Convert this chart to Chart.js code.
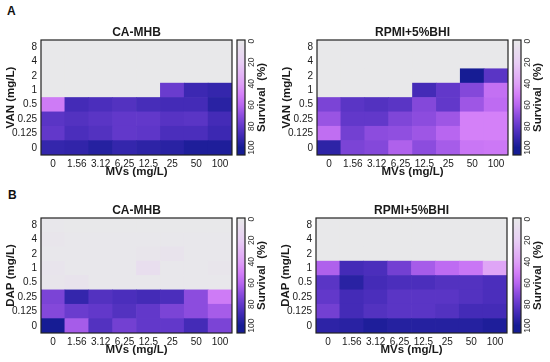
<!DOCTYPE html>
<html>
<head>
<meta charset="utf-8">
<script src="https://cdn.jsdelivr.net/npm/chart.js@4.4.1/dist/chart.umd.min.js"></script>
<style>
  body { margin: 0; background: #fff; }
  #page { position: relative; width: 550px; height: 362px; overflow: hidden; font-family: 'Liberation Sans', Arial, sans-serif; }
  #page canvas { position: absolute; }
  .panel-tag { position: absolute; font-weight: bold; font-size: 12px; color: #111; }
</style>
</head>
<body>
<div id="page">
  <div class="panel-tag" style="left:7px;top:4px">A</div>
  <div class="panel-tag" style="left:8px;top:188px">B</div>

  <canvas id="heatVanMhb" width="236" height="182" style="left:0;top:0"></canvas>
  <canvas id="barVanMhb" width="45" height="182" style="left:229px;top:0"></canvas>
  <canvas id="heatVanRpmi" width="236" height="182" style="left:276px;top:0"></canvas>
  <canvas id="barVanRpmi" width="45" height="182" style="left:505px;top:0"></canvas>

  <canvas id="heatDapMhb" width="236" height="182" style="left:0;top:178px"></canvas>
  <canvas id="barDapMhb" width="45" height="182" style="left:229px;top:178px"></canvas>
  <canvas id="heatDapRpmi" width="236" height="182" style="left:275px;top:178px"></canvas>
  <canvas id="barDapRpmi" width="45" height="182" style="left:505px;top:178px"></canvas>
</div>

<script>
// Axis categories
const mvLabels = ['0', '1.56', '3.12', '6.25', '12.5', '25', '50', '100'];
const concLabels = ['0', '0.125', '0.25', '0.5', '1', '2', '4', '8'];   // bottom -> top

// Survival (%) per cell, one row per antibiotic conc (bottom row first)
const vanMhb = [
  [92, 93, 96, 92, 94, 95, 98, 98],
  [80, 86, 84, 80, 81, 86, 86, 90],
  [82, 84, 82, 80, 80, 83, 82, 88],
  [52, 88, 86, 84, 87, 88, 88, 95],
  [0, 0, 0, 0, 0, 78, 90, 92],
  [0, 0, 0, 0, 0, 0, 0, 0],
  [0, 0, 0, 0, 0, 0, 0, 0],
  [0, 0, 0, 0, 0, 0, 0, 0],
];

const vanRpmi = [
  [94, 74, 72, 62, 70, 64, 54, 53],
  [57, 76, 70, 69, 66, 60, 50, 50],
  [67, 80, 80, 73, 70, 66, 50, 50],
  [74, 82, 84, 82, 72, 80, 66, 58],
  [0, 0, 0, 0, 88, 80, 72, 56],
  [0, 0, 0, 0, 0, 0, 100, 82],
  [0, 0, 0, 0, 0, 0, 0, 0],
  [0, 0, 0, 0, 0, 0, 0, 0],
];

const dapMhb = [
  [100, 64, 84, 76, 80, 80, 88, 74],
  [72, 78, 80, 84, 80, 74, 70, 64],
  [74, 92, 84, 86, 88, 86, 70, 52],
  [2, 4, 1, 1, 1, 1, 1, 1],
  [3, 1, 1, 1, 8, 1, 1, 2],
  [1, 1, 1, 1, 2, 4, 1, 1],
  [2, 1, 1, 1, 1, 1, 1, 1],
  [1, 0, 0, 0, 0, 0, 0, 0],
];

const dapRpmi = [
  [94, 95, 98, 96, 96, 96, 96, 98],
  [76, 88, 84, 82, 82, 84, 88, 88],
  [80, 88, 86, 82, 82, 82, 84, 86],
  [82, 95, 88, 86, 86, 84, 84, 86],
  [62, 88, 86, 76, 64, 58, 54, 38],
  [0, 0, 0, 0, 0, 0, 0, 0],
  [0, 0, 0, 0, 0, 0, 0, 0],
  [0, 0, 0, 0, 0, 0, 0, 0],
];

// colour bar
const survivalRange = [-1, 107];
const survivalTicks = [0, 20, 40, 60, 80, 100];

// colour map (value -> rgb)
const survivalStops = [
  [0, [232, 232, 234]],
  [20, [232, 206, 244]],
  [40, [222, 160, 246]],
  [50, [212, 128, 248]],
  [60, [184, 102, 240]],
  [70, [140, 76, 222]],
  [80, [98, 56, 202]],
  [90, [60, 40, 178]],
  [100, [22, 28, 148]],
];

const rgb = (c) => `rgb(${c.map(Math.round).join(',')})`;

const survivalColor = (v) => {
  for (let i = 1; i < survivalStops.length; i++) {
    const [v1, c1] = survivalStops[i];
    if (v <= v1 || i === survivalStops.length - 1) {
      const [v0, c0] = survivalStops[i - 1];
      const t = Math.min(1, Math.max(0, (v - v0) / (v1 - v0)));
      return rgb(c0.map((c, k) => c + (c1[k] - c) * t));
    }
  }
};

const FONT = "'Liberation Sans', Arial, sans-serif";
const INK = '#1a1a1a';

// black box round the plot area
const framePlugin = {
  id: 'frame',
  afterDraw(chart) {
    const { ctx, chartArea: a } = chart;
    ctx.save();
    ctx.strokeStyle = '#222';
    ctx.lineWidth = 1.2;
    ctx.strokeRect(a.left, a.top, a.right - a.left, a.bottom - a.top);
    ctx.restore();
  },
};

function makeHeatmap(canvasId, rows, yTitle, title) {
  const datasets = rows.map((row, r) => ({
    data: row.map(() => [r, r + 1]),
    backgroundColor: row.map(survivalColor),
    borderWidth: 0,
    grouped: false,
    barPercentage: 1,
    categoryPercentage: 1,
  }));

  new Chart(document.getElementById(canvasId), {
    type: 'bar',
    data: { labels: mvLabels, datasets },
    options: {
      responsive: false,
      animation: false,
      events: [],
      layout: { padding: { top: 25, right: 4, bottom: 2, left: 0 } },
      plugins: {
        legend: { display: false },
        tooltip: { enabled: false },
        title: {
          display: true,
          text: title,
          fullSize: false,
          color: INK,
          font: { family: FONT, size: 12, weight: 'bold' },
          padding: { top: 0, bottom: 0.6 },
        },
      },
      scales: {
        x: {
          grid: { display: false, drawTicks: false },
          border: { display: false },
          ticks: {
            color: INK,
            padding: 3,
            autoSkip: false,
            maxRotation: 0,
            font: { family: FONT, size: 10 },
          },
          title: {
            display: true,
            text: 'MVs (mg/L)',
            color: INK,
            padding: { top: 0, bottom: 1 },
            font: { family: FONT, size: 11.5, weight: 'bold' },
          },
          afterFit: (scale) => { scale.height = 25; },
        },
        y: {
          type: 'linear',
          min: 0,
          max: concLabels.length,
          grid: { display: false, drawTicks: false },
          border: { display: false },
          afterBuildTicks: (scale) => {
            scale.ticks = concLabels.map((_, i) => ({ value: i + 0.5 }));
          },
          ticks: {
            color: INK,
            padding: 4,
            autoSkip: false,
            font: { family: FONT, size: 10 },
            callback: (value, index) => concLabels[index],
          },
          title: {
            display: true,
            text: yTitle,
            color: INK,
            padding: { top: 4, bottom: 0 },
            font: { family: FONT, size: 11.5, weight: 'bold' },
          },
          afterFit: (scale) => { scale.width = 41; },
        },
      },
    },
    plugins: [framePlugin],
  });
}

// "Survival (%)" reads bottom -> top, like a left axis title
const colorbarTitlePlugin = {
  id: 'colorbarTitle',
  afterDraw(chart) {
    const { ctx, chartArea: a } = chart;
    ctx.save();
    ctx.translate(33, (a.top + a.bottom) / 2);
    ctx.rotate(-Math.PI / 2);
    ctx.fillStyle = INK;
    ctx.font = `bold 11.5px ${FONT}`;
    ctx.textAlign = 'center';
    ctx.textBaseline = 'middle';
    ctx.fillText('Survival  (%)', 0, 0);
    ctx.restore();
  },
};

function makeColorbar(canvasId) {
  new Chart(document.getElementById(canvasId), {
    type: 'bar',
    data: {
      labels: [''],
      datasets: [{
        data: [survivalRange],
        borderWidth: 0,
        barPercentage: 1,
        categoryPercentage: 1,
        backgroundColor: (context) => {
          const chart = context.chart;
          if (!chart.chartArea) return null;
          const y = chart.scales.y;
          const g = chart.ctx.createLinearGradient(0, y.getPixelForValue(0), 0, y.getPixelForValue(100));
          survivalStops.forEach(([v, c]) => g.addColorStop(v / 100, rgb(c)));
          return g;
        },
      }],
    },
    options: {
      responsive: false,
      animation: false,
      events: [],
      layout: { padding: { top: 40, right: 0, bottom: 27, left: 8 } },
      plugins: { legend: { display: false }, tooltip: { enabled: false } },
      scales: {
        x: { display: false },
        y: {
          position: 'right',
          reverse: true,
          min: survivalRange[0],
          max: survivalRange[1],
          grid: { display: false, drawTicks: false },
          border: { display: false },
          afterBuildTicks: (scale) => {
            scale.ticks = survivalTicks.map((v) => ({ value: v }));
          },
          ticks: {
            color: '#333',
            padding: 0,
            minRotation: 90,
            maxRotation: 90,
            crossAlign: 'center',
            autoSkip: false,
            font: { family: FONT, size: 8.5 },
          },
          afterFit: (scale) => { scale.width = 29; },
        },
      },
    },
    plugins: [framePlugin, colorbarTitlePlugin],
  });
}

makeHeatmap('heatVanMhb', vanMhb, 'VAN (mg/L)', 'CA-MHB');
makeHeatmap('heatVanRpmi', vanRpmi, 'VAN (mg/L)', 'RPMI+5%BHI');
makeHeatmap('heatDapMhb', dapMhb, 'DAP (mg/L)', 'CA-MHB');
makeHeatmap('heatDapRpmi', dapRpmi, 'DAP (mg/L)', 'RPMI+5%BHI');

makeColorbar('barVanMhb');
makeColorbar('barVanRpmi');
makeColorbar('barDapMhb');
makeColorbar('barDapRpmi');
</script>
</body>
</html>
